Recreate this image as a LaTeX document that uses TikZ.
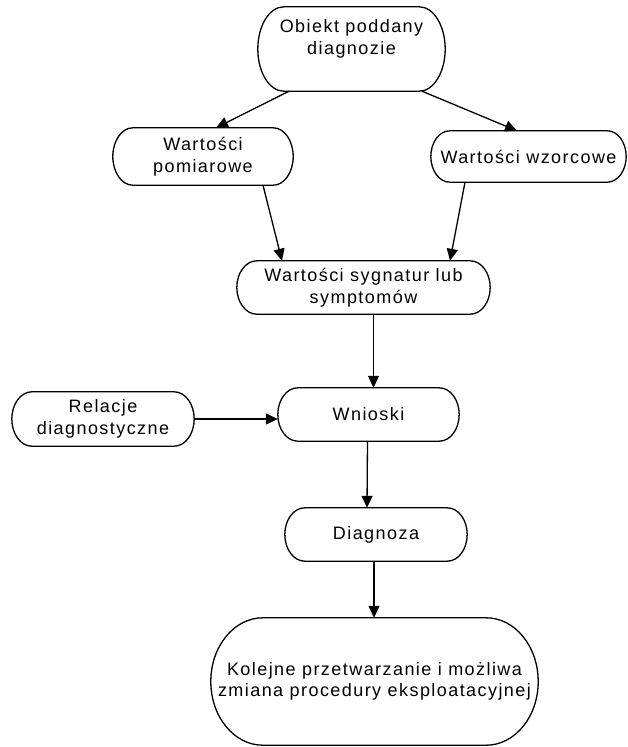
\documentclass[tikz,border=0pt]{standalone}
\usepackage{fontspec}
\setmainfont{Liberation Sans}[LetterSpace=8]
\usetikzlibrary{arrows.meta,calc}
\tikzset{
  box/.style={rectangle, inner sep=0pt, align=center, font=\fontsize{18}{21.5}\selectfont},
  outline/.style={line width=1.3pt},
  arr/.style={line width=1.3pt, -{Triangle[length=12pt,width=11pt]}}
}
\begin{document}
\begin{tikzpicture}[x=1pt,y=-1pt]
\useasboundingbox (0,0) rectangle (627,747);
\node[box, minimum width=187pt, minimum height=84pt,
  label={[align=center, font=\fontsize{18}{21.5}\selectfont, yshift=10pt]center:Obiekt poddany\\diagnozie}] (n1) at (351.5,49) {};
\node[box, minimum width=180pt, minimum height=57pt] (n2) at (203,156.5) {Wartości\\pomiarowe};
\node[box, minimum width=195pt, minimum height=51pt] (n3) at (528.5,156.5) {Wartości wzorcowe};
\node[box, minimum width=253pt, minimum height=53pt] (n4) at (363.5,287.5) {Wartości sygnatur lub\\symptomów};
\node[box, minimum width=182pt, minimum height=54pt] (n5) at (103,419) {Relacje\\diagnostyczne};
\node[box, minimum width=181pt, minimum height=53pt] (n6) at (368.5,414.5) {Wnioski};
\node[box, minimum width=182pt, minimum height=53pt] (n7) at (376,534.5) {Diagnoza};
\node[box, minimum width=327pt, minimum height=127pt] (n8) at (374.5,681.5) {Kolejne przetwarzanie i możliwa\\zmiana procedury eksploatacyjnej};
\foreach \nd/\r in {n1/26,n2/20,n3/19,n4/20,n5/20,n6/20,n7/20,n8/52}{
  \draw[outline] let \p1=(\nd.north west), \p2=(\nd.south east), \n1={(\y1-\y2)/2} in
    (\x1+\r pt,\y1) -- (\x2-\r pt,\y1)
    arc[start angle=90,end angle=-90,x radius=\r pt,y radius=\n1]
    -- (\x1+\r pt,\y2)
    arc[start angle=270,end angle=90,x radius=\r pt,y radius=\n1] -- cycle;
}
\draw[arr] ($(n1.south)+(-62.5,0)$) -- ($(n2.north)+(13,0)$);
\draw[arr] ($(n1.south)+(70.5,0)$) -- ($(n3.north)+(-11.5,0)$);
\draw[arr] ($(n2.south)+(60,0)$) -- ($(n4.north)+(-81.5,0)$);
\draw[arr] ($(n3.south)+(-63.5,0)$) -- ($(n4.north)+(86.5,0)$);
\draw[arr] ($(n4.south)+(10,0)$) -- ($(n6.north)+(5,0)$);
\draw[arr] (n5.east) -- (n5.east -| n6.west);
\draw[arr] ($(n6.south)+(-1,0)$) -- ($(n7.north)+(-9,0)$);
\draw[arr] ($(n7.south)+(-2,0)$) -- ($(n8.north)+(-0.5,0)$);
\end{tikzpicture}
\end{document}
